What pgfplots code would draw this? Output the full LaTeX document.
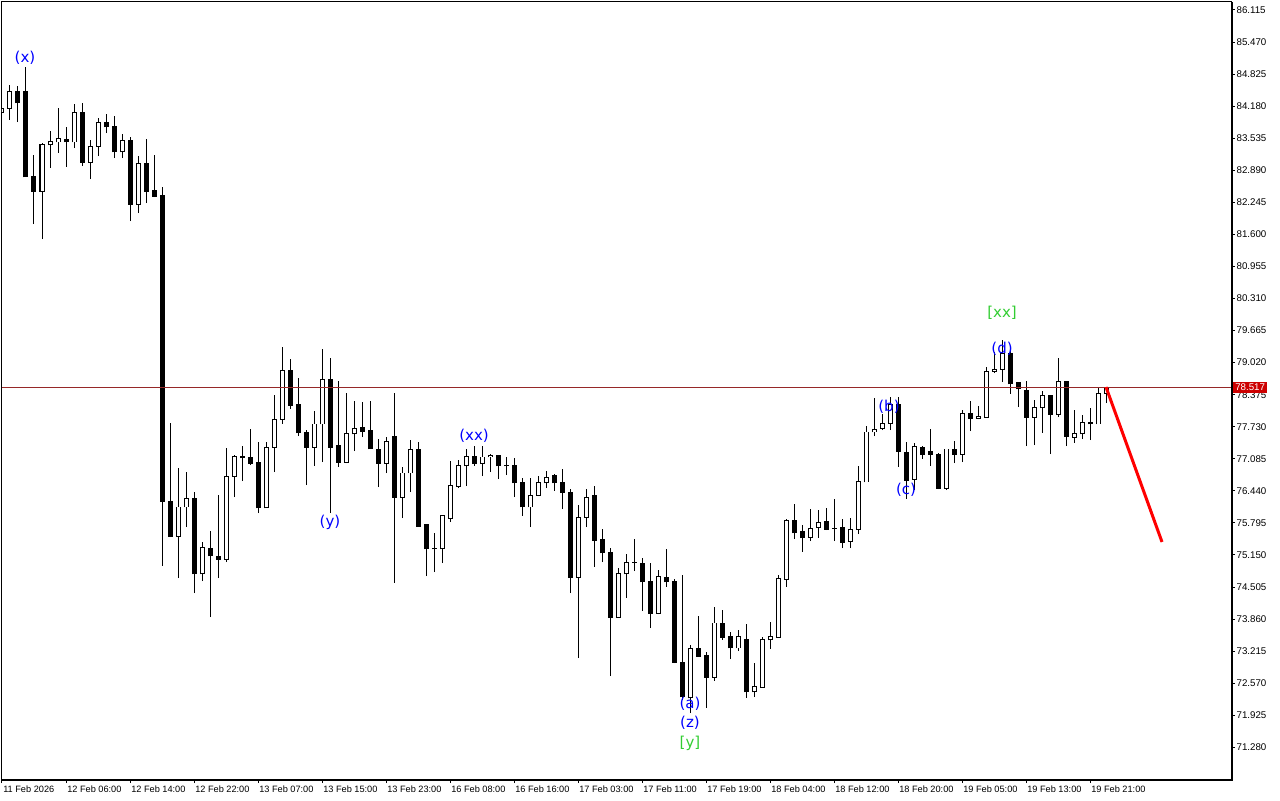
\documentclass[border=0pt]{standalone}
\usepackage{pgfplots}
\pgfplotsset{compat=1.18}
\usepackage{pgfplotstable}
\usepackage{fontspec}
\setmainfont{Liberation Sans}
\newfontfamily\annfont{DejaVu Sans}
\definecolor{wave}{RGB}{0,0,255}
\definecolor{wgreen}{RGB}{50,205,50}
\definecolor{pline}{RGB}{150,40,40}
\definecolor{pbox}{RGB}{205,0,0}
\pgfplotstableread{
i o h l c
-1 84.062 84.223 83.942 84.143
0 84.143 84.606 83.902 84.485
1 84.485 84.586 83.861 84.244
2 84.485 84.968 82.755 82.755
3 82.755 83.197 81.809 82.473
4 82.473 83.439 81.507 83.399
5 83.399 83.680 82.936 83.479
6 83.459 84.143 83.238 83.539
7 83.519 83.761 82.956 83.459
8 83.459 84.223 83.338 84.062
9 84.062 84.244 82.976 83.056
10 83.056 83.499 82.714 83.378
11 83.378 83.942 83.177 83.861
12 83.861 84.022 83.640 83.761
13 83.761 83.982 83.137 83.258
14 83.258 83.620 83.137 83.499
15 83.499 83.559 81.869 82.211
16 82.211 83.177 82.030 83.036
17 83.036 83.519 82.231 82.473
18 82.493 83.197 82.352 82.372
19 82.392 82.553 74.928 76.235
20 76.235 77.805 75.511 75.531
21 75.531 76.899 74.686 76.115
22 76.115 76.819 75.712 76.276
23 76.276 76.416 74.384 74.767
24 74.767 75.410 74.626 75.310
25 75.270 75.632 73.901 75.129
26 75.129 76.356 74.686 75.068
27 75.068 77.302 75.008 76.738
28 76.738 77.161 76.316 77.141
29 77.141 77.342 76.638 77.101
30 77.101 77.684 76.960 77.000
31 77.020 77.423 75.994 76.095
32 76.095 77.423 76.095 77.322
33 77.322 78.368 76.819 77.885
34 77.885 79.334 77.785 78.871
35 78.871 79.093 78.087 78.167
36 78.187 78.710 77.543 77.604
37 77.624 77.664 76.557 77.322
38 77.322 78.046 76.940 77.785
39 77.785 79.294 77.020 78.690
40 78.690 79.113 75.994 77.322
41 77.362 78.650 76.920 77.020
42 77.020 78.408 77.000 77.584
43 77.584 78.248 77.241 77.704
44 77.724 78.227 77.523 77.644
45 77.664 78.248 77.282 77.282
46 77.282 77.483 76.517 77.000
47 77.000 77.523 76.799 77.423
48 77.543 78.408 74.586 76.316
49 76.316 76.920 75.893 76.799
50 76.799 77.463 76.416 77.262
51 77.262 77.423 75.732 75.732
52 75.772 75.772 74.726 75.270
53 75.270 75.592 74.807 75.270
54 75.270 75.934 74.988 75.934
55 75.893 77.040 75.813 76.557
56 76.537 77.060 76.497 76.940
57 76.940 77.282 76.537 77.141
58 77.141 77.342 76.940 77.000
59 77.000 77.342 76.738 77.121
60 77.121 77.181 76.819 77.161
61 77.161 77.161 76.678 76.940
62 76.940 77.121 76.758 76.940
63 76.940 77.101 76.316 76.598
64 76.598 76.698 75.934 76.115
65 76.115 76.698 75.712 76.356
66 76.356 76.738 76.336 76.598
67 76.598 76.839 76.497 76.718
68 76.758 76.779 76.437 76.598
69 76.598 76.879 76.074 76.416
70 76.416 76.477 74.384 74.706
71 74.706 76.155 73.076 75.913
72 75.913 76.477 75.712 76.316
73 76.356 76.537 74.908 75.450
74 75.471 75.672 75.008 75.190
75 75.190 75.290 72.714 73.901
76 73.901 74.887 73.901 74.767
77 74.767 75.169 74.284 75.008
78 75.008 75.471 74.827 75.008
79 74.988 75.088 74.022 74.606
80 74.606 74.988 73.680 73.982
81 73.982 74.847 73.961 74.726
82 74.706 75.270 74.506 74.606
83 74.606 74.666 72.976 72.996
84 72.996 74.746 72.232 72.292
85 72.272 73.338 71.970 73.258
86 73.258 73.921 73.116 73.116
87 73.136 73.197 72.071 72.694
88 72.694 74.103 72.614 73.781
89 73.781 74.043 73.439 73.499
90 73.519 73.600 73.056 73.278
91 73.278 73.640 73.217 73.519
92 73.459 73.761 72.272 72.393
93 72.393 72.976 72.292 72.513
94 72.493 73.499 72.493 73.439
95 73.439 73.801 73.258 73.519
96 73.499 74.746 73.499 74.686
97 74.666 75.873 74.506 75.853
98 75.853 76.175 75.471 75.592
99 75.612 75.752 75.210 75.492
100 75.511 76.074 75.430 75.692
101 75.712 76.054 75.492 75.813
102 75.833 76.095 75.652 75.672
103 75.692 76.276 75.430 75.692
104 75.712 75.873 75.290 75.410
105 75.430 75.893 75.290 75.672
106 75.672 76.940 75.571 76.638
107 76.618 77.744 76.618 77.624
108 77.624 78.308 77.543 77.684
109 77.704 77.985 77.664 77.805
110 77.805 78.328 77.664 78.187
111 78.187 78.328 76.920 77.241
112 77.221 77.423 76.276 76.658
113 76.678 77.403 76.457 77.342
114 77.322 77.342 77.081 77.181
115 77.241 77.684 76.940 77.181
116 77.181 77.201 76.477 76.497
117 76.497 77.282 76.457 77.282
118 77.282 77.443 77.000 77.181
119 77.181 78.066 77.020 78.006
120 78.006 78.248 77.644 77.905
121 77.905 78.147 77.885 77.945
122 77.925 78.932 77.925 78.851
123 78.851 79.233 78.811 78.891
124 78.891 79.475 78.630 79.213
125 79.213 79.334 78.389 78.590
126 78.610 78.610 78.127 78.490
127 78.469 78.650 77.342 77.925
128 77.925 78.268 77.362 78.107
129 78.107 78.449 77.604 78.368
130 78.368 78.368 77.181 77.985
131 77.985 79.113 77.925 78.650
132 78.650 78.650 77.342 77.543
133 77.523 78.066 77.403 77.584
134 77.584 77.965 77.483 77.825
135 77.825 78.107 77.463 77.785
136 77.785 78.529 77.785 78.408
137 78.408 78.529 78.207 78.517
}\candles
\begin{document}
\begin{tikzpicture}
\useasboundingbox (-1.5pt,-15.75pt) rectangle (958.5pt,584.25pt);
\begin{axis}[
  at={(0pt,0pt)}, anchor=south west,
  scale only axis, width=921.75pt, height=582.75pt,
  xmin=-1, xmax=152.625, ymin=70.642, ymax=86.276,
  axis line style={line width=0.75pt},
  tick align=outside, major tick length=3pt,
  tick style={line width=0.75pt, black},
  xtick pos=left, ytick pos=right, yticklabel pos=right,
  xtick={-1,7,15,23,31,39,47,55,63,71,79,87,95,103,111,119,127,135},
  xticklabels={11 Feb 2026,12 Feb 06:00,12 Feb 14:00,12 Feb 22:00,13 Feb 07:00,13 Feb 15:00,13 Feb 23:00,16 Feb 08:00,16 Feb 16:00,17 Feb 03:00,17 Feb 11:00,17 Feb 19:00,18 Feb 04:00,18 Feb 12:00,18 Feb 20:00,19 Feb 05:00,19 Feb 13:00,19 Feb 21:00},
  xticklabel style={font=\fontsize{6.9}{8}\selectfont, anchor=north west, inner sep=0pt, xshift=0.75pt, yshift=-2pt},
  ytick={71.280,71.925,72.570,73.215,73.860,74.505,75.150,75.795,76.440,77.085,77.730,78.375,79.020,79.665,80.310,80.955,81.600,82.245,82.890,83.535,84.180,84.825,85.470,86.115},
  yticklabel style={font=\fontsize{7.3}{8}\selectfont, anchor=west, inner sep=0pt, xshift=1pt,
    /pgf/number format/.cd, fixed, fixed zerofill, precision=3, assume math mode=true},
]
% wicks
\addplot[draw=none, mark=none, forget plot,
  error bars/.cd, y dir=plus, y explicit, error mark=none,
  error bar style={draw=black, line width=0.75pt}]
  table[x=i, y=l, y error plus expr={\thisrow{h}-\thisrow{l}}] {\candles};
% bodies (outline / filled)
\addplot[draw=none, mark=none, forget plot,
  error bars/.cd, y dir=plus, y explicit, error mark=none,
  error bar style={draw=black, line width=3.75pt}]
  table[x=i, y expr={min(\thisrow{o},\thisrow{c})-0.01}, y error plus expr={abs(\thisrow{c}-\thisrow{o})+0.02}] {\candles};
% white interior of rising candles
\addplot[draw=none, mark=none, forget plot,
  error bars/.cd, y dir=plus, y explicit, error mark=none,
  error bar style={draw=white, line width=2.25pt}]
  table[x=i, y expr={\thisrow{o}+0.01}, y error plus expr={max(\thisrow{c}-\thisrow{o}-0.02,0)}] {\candles};
% current price line
\addplot[pline, line width=0.75pt, forget plot] coordinates {(-1,78.517) (152.625,78.517)};
% projection line
\addplot[red, line width=2.25pt, forget plot] coordinates {(137,78.529) (144,75.411)};
% wave labels
\node[text=wave, font=\annfont\fontsize{11.25}{13}\selectfont] at (axis cs:1.875,85.149) {(x)};
\node[text=wave, font=\annfont\fontsize{11.25}{13}\selectfont] at (axis cs:40,75.813) {(y)};
\node[text=wave, font=\annfont\fontsize{11.25}{13}\selectfont] at (axis cs:58,77.543) {(xx)};
\node[text=wave, font=\annfont\fontsize{11.25}{13}\selectfont] at (axis cs:85,72.151) {(a)};
\node[text=wave, font=\annfont\fontsize{11.25}{13}\selectfont] at (axis cs:85,71.769) {(z)};
\node[text=wgreen, font=\annfont\fontsize{11.25}{13}\selectfont] at (axis cs:85,71.366) {[y]};
\node[text=wave, font=\annfont\fontsize{11.25}{13}\selectfont] at (axis cs:109.875,78.127) {(b)};
\node[text=wave, font=\annfont\fontsize{11.25}{13}\selectfont] at (axis cs:112,76.457) {(c)};
\node[text=wgreen, font=\annfont\fontsize{11.25}{13}\selectfont] at (axis cs:124,80.018) {[xx]};
\node[text=wave, font=\annfont\fontsize{11.25}{13}\selectfont] at (axis cs:124,79.294) {(d)};
\coordinate (pl) at (axis cs:152.625,78.517);
\end{axis}
\draw[line width=1.5pt] (922.5pt,-0.75pt) -- (922.5pt,582.75pt);
\draw[line width=1.5pt] (0pt,-0.375pt) -- (923.25pt,-0.375pt);
\node[fill=pbox, text=white, inner xsep=1.5pt, inner ysep=1.5pt, anchor=west, font=\fontsize{7.3}{8}\selectfont] at ([xshift=1.5pt]pl) {78.517};
\end{tikzpicture}
\end{document}
